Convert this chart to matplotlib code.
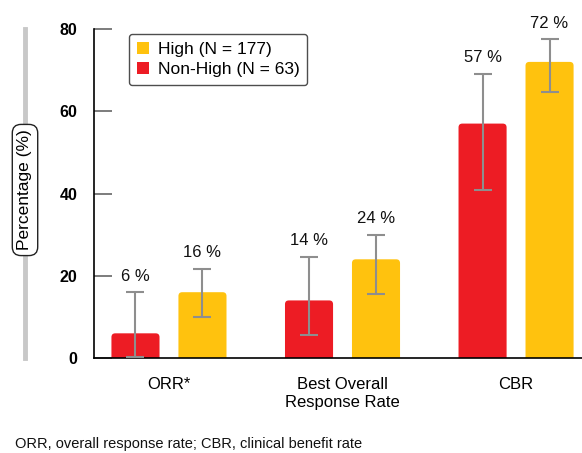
import matplotlib
matplotlib.use("Agg")
import matplotlib.pyplot as plt
from matplotlib.patches import FancyBboxPatch, Patch
from matplotlib.lines import Line2D
import numpy as np

plt.rcParams['font.family'] = ['Liberation Sans', 'DejaVu Sans']

categories = ["ORR*", "Best Overall\nResponse Rate", "CBR"]
non_high_vals = [6, 14, 57]
high_vals = [16, 24, 72]
non_high_ci_low = [0.3, 5.7, 40.9]
non_high_ci_high = [16.0, 24.6, 69.1]
high_ci_low = [10.0, 15.6, 64.6]
high_ci_high = [21.7, 30.0, 77.6]
yticks = [0, 20, 40, 60, 80]

RED = "#ED1C24"
YELLOW = "#FFC20E"
ERR = "#8E8E8E"

fig = plt.figure(figsize=(5.82, 4.53), dpi=100)
ax = fig.add_axes([94 / 582, 95 / 453, 1 - 94 / 582, 329 / 453])

x = np.arange(len(categories))
width = 0.277
off = 0.193

def rounded_bars(xpos, vals, color):
    bars = ax.bar(xpos, vals, width, color=color, linewidth=0)
    for r in bars:
        r.set_visible(False)
        # rounded top corners; bottom pushed below the axis and clipped
        p = FancyBboxPatch((r.get_x(), -3), r.get_width(), r.get_height() + 3,
                           boxstyle="round,pad=0,rounding_size=0.022",
                           mutation_aspect=42, facecolor=color,
                           edgecolor="none", zorder=2, clip_on=True)
        ax.add_patch(p)
    return bars

rounded_bars(x - off, non_high_vals, RED)
rounded_bars(x + off, high_vals, YELLOW)

for xs, vals, lo, hi in [(x - off, non_high_vals, non_high_ci_low, non_high_ci_high),
                         (x + off, high_vals, high_ci_low, high_ci_high)]:
    vals = np.array(vals, dtype=float)
    yerr = [vals - np.array(lo), np.array(hi) - vals]
    ax.errorbar(xs, vals, yerr=yerr, fmt="none", ecolor=ERR, elinewidth=1.5,
                capsize=6.5, capthick=1.5, zorder=3)
    for xi, h, v in zip(xs, hi, vals):
        ax.annotate(f"{v:.0f} %", (xi, h), xytext=(0, 6), textcoords="offset points",
                    ha="center", va="bottom", fontsize=12, color="#111111")

ax.set_xlim(-0.432, 2.38)
ax.set_ylim(0, 80)
ax.set_yticks(yticks)
ax.set_yticklabels([str(t) for t in yticks], fontsize=11.5, fontweight="bold")
ax.tick_params(axis="y", direction="in", length=13, width=1.2, color="#666666", pad=12)
ax.set_xticks(x)
ax.set_xticklabels(categories, fontsize=12)
ax.tick_params(axis="x", length=0, pad=14)
for s in ["top", "right"]:
    ax.spines[s].set_visible(False)
ax.spines["left"].set_linewidth(1.2)
ax.spines["bottom"].set_linewidth(1.2)

# y-axis title on a light grey guide bar
fig.add_artist(Line2D([25 / 582, 25 / 582], [95 / 453, 424 / 453],
                      color="#C8C8C8", linewidth=3.5, transform=fig.transFigure))
fig.text(25 / 582, 263 / 453, "Percentage (%)", rotation=90, ha="center", va="center",
         fontsize=12.5,
         bbox=dict(boxstyle="round,pad=0.3,rounding_size=0.5", facecolor="white",
                   edgecolor="#222222", linewidth=1))

handles = [Patch(facecolor=YELLOW, edgecolor="none"), Patch(facecolor=RED, edgecolor="none")]
leg = ax.legend(handles, ["High (N = 177)", "Non-High (N = 63)"], loc="upper left",
                bbox_to_anchor=(35 / 488, 1 - 5 / 329), fontsize=12.5, frameon=True,
                fancybox=True, edgecolor="#222222", handlelength=0.7, handleheight=0.7,
                handletextpad=0.5, borderpad=0.45, labelspacing=0.3, borderaxespad=0)
leg.get_frame().set_linewidth(1)

fig.text(15 / 582, 1 - 444 / 453, "ORR, overall response rate; CBR, clinical benefit rate",
         fontsize=10.5, ha="left", va="center", color="#111111")

fig.savefig("out.png", dpi=100)
